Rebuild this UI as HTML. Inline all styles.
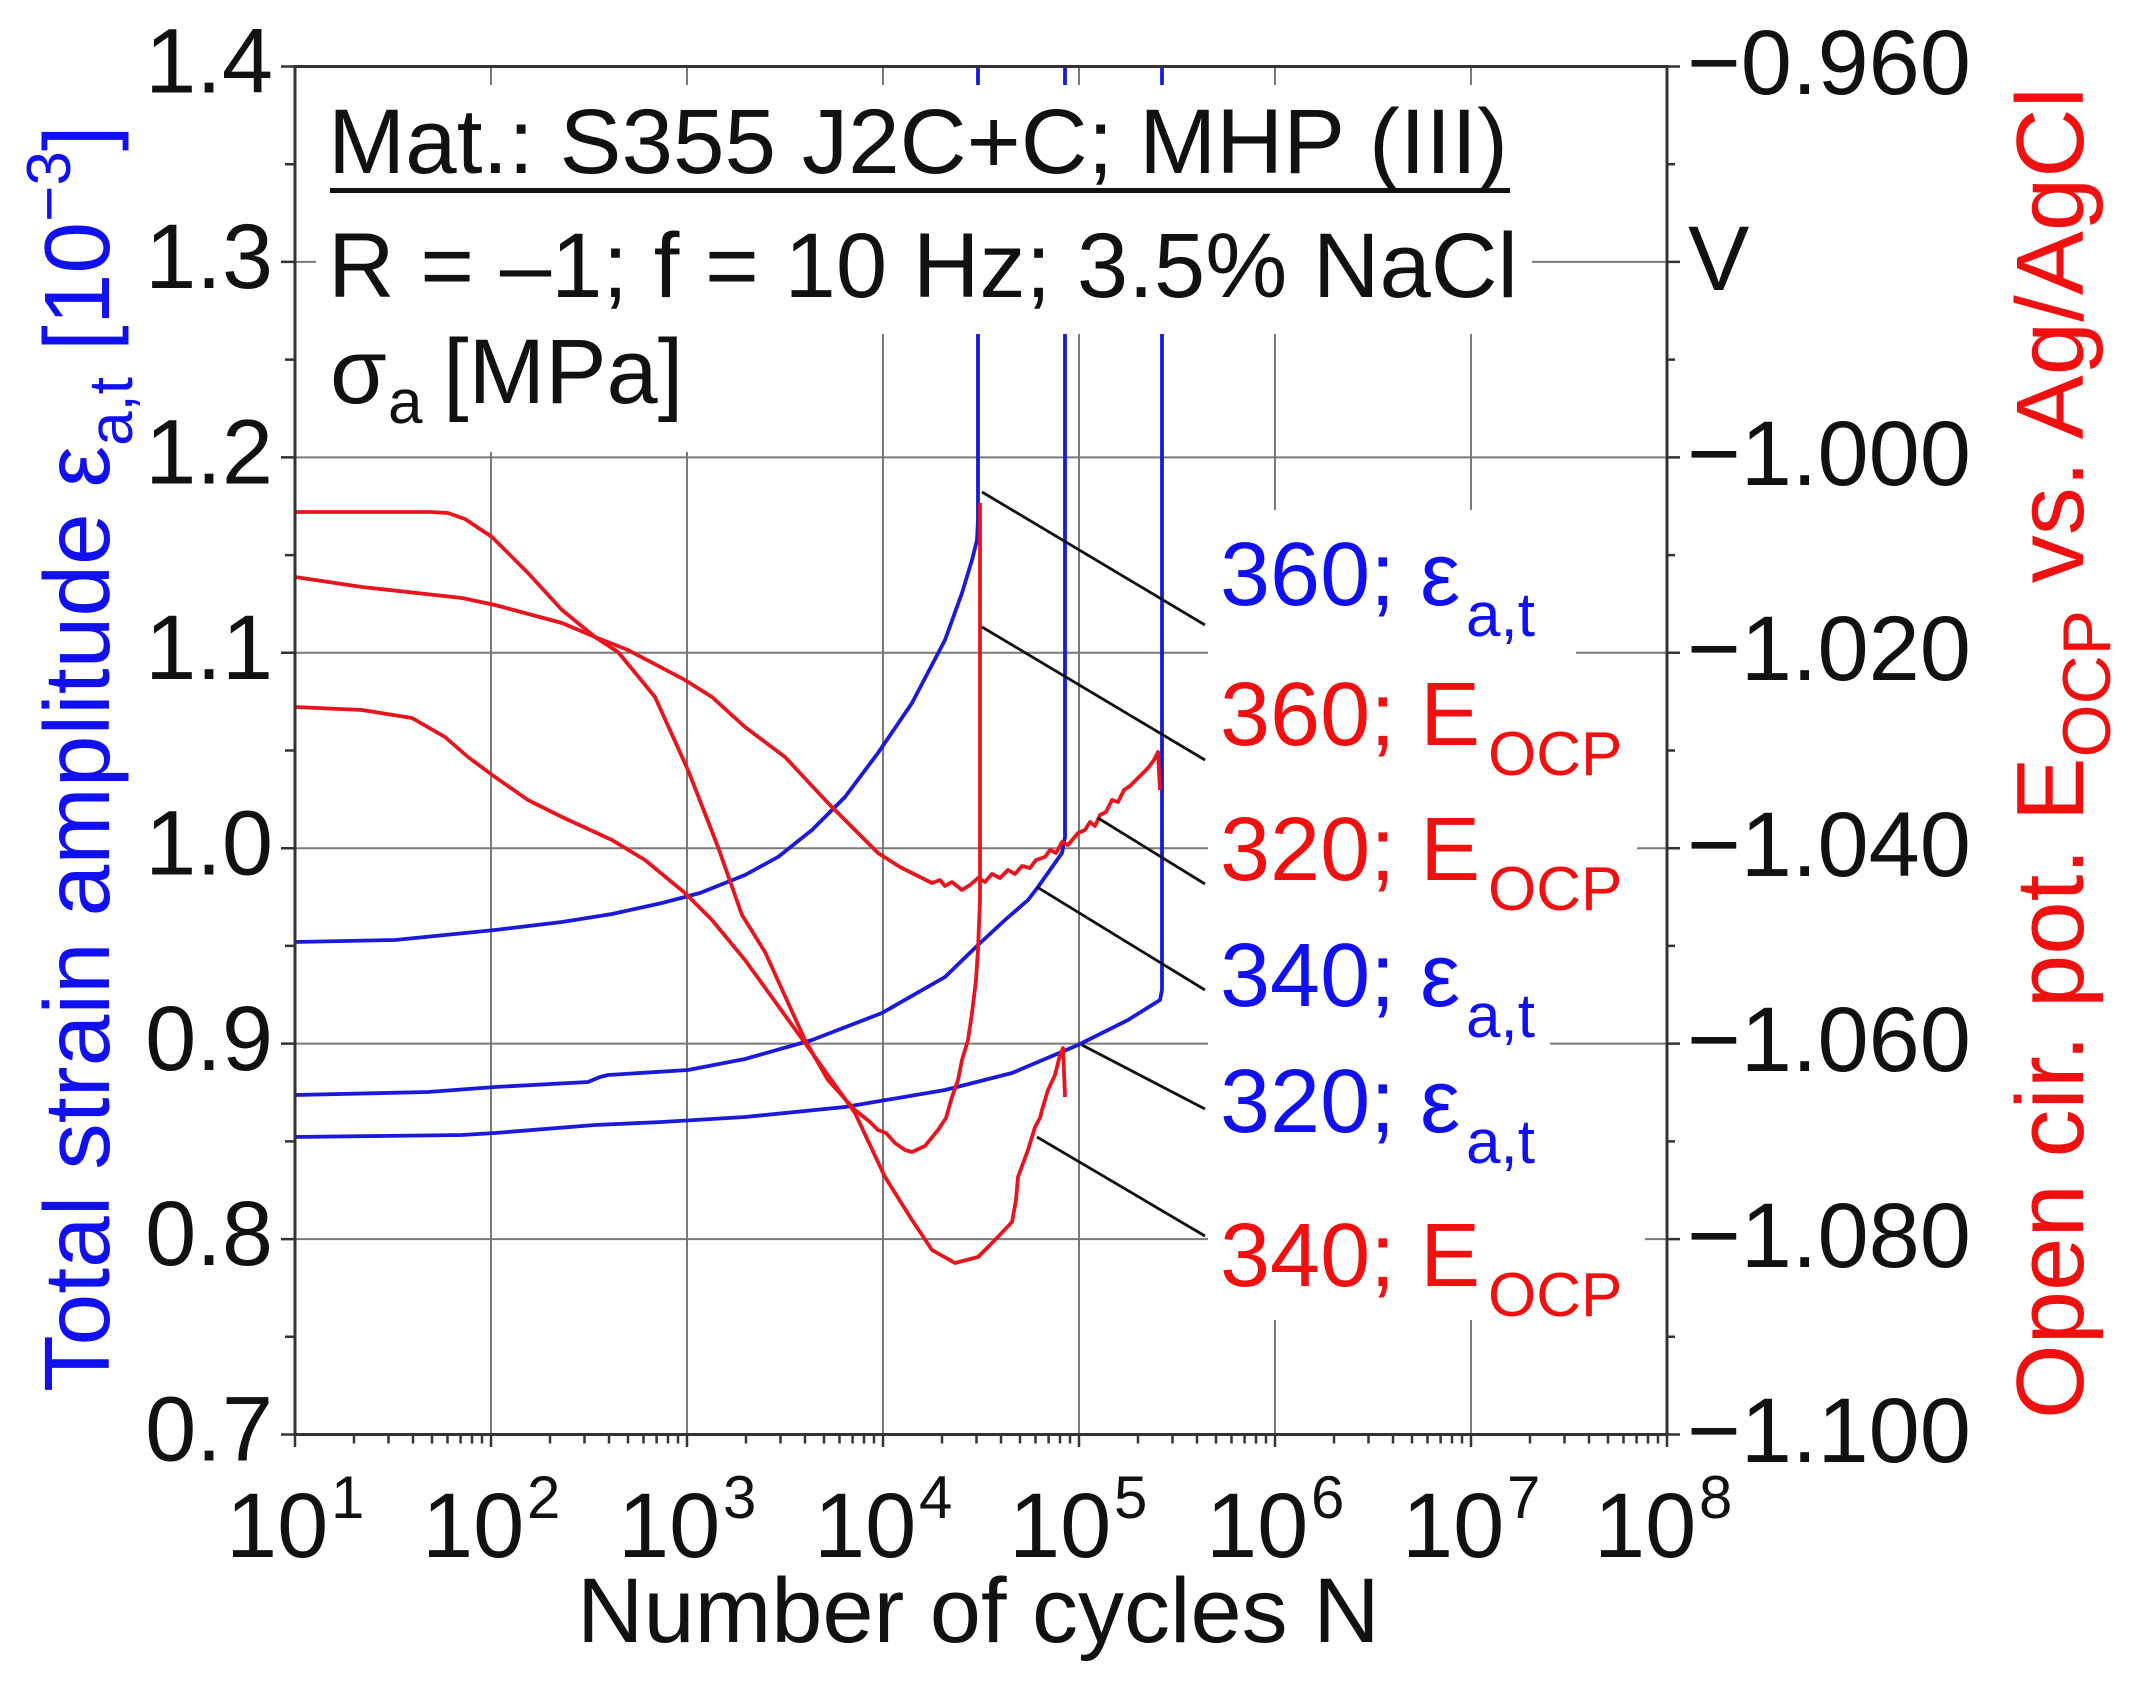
<!DOCTYPE html>
<html>
<head>
<meta charset="utf-8">
<style>
  html, body { margin: 0; padding: 0; background: #ffffff; }
  svg { display: block; }
  text { font-family: "Liberation Sans", Arial, sans-serif; }
</style>
</head>
<body>
<svg xmlns="http://www.w3.org/2000/svg" width="2134" height="1682" viewBox="0 0 2134 1682">
  <rect x="0" y="0" width="2134" height="1682" fill="#ffffff"/>

  <!-- Gridlines -->
  <g stroke="#7a7a7a" stroke-width="2" fill="none">
    <path d="M295 261.9H1667M295 457.4H1667M295 652.8H1667M295 848.2H1667M295 1043.6H1667M295 1239.1H1667"/>
    <path d="M491 66.5V1434.5M687 66.5V1434.5M883 66.5V1434.5M1079 66.5V1434.5M1275 66.5V1434.5M1471 66.5V1434.5"/>
  </g>

  <!-- Blue strain curves -->
  <g stroke="#1a1ad8" stroke-width="3.8" fill="none" stroke-linejoin="round">
    <!-- 360 -->
    <path d="M295 942 L395 940 L495 930 L562 922 L612 914 L662 903 L700 893 L745 875 L778 857 L812 830 L845 797 L878 753 L912 703 L945 640 L962 593 L972 560 L977 540 L978 520 L978 66.5"/>
    <!-- 340 -->
    <path d="M295 1095 L428 1092 L495 1087 L588 1082 L600 1077 L608 1075 L688 1070 L745 1059 L812 1040 L882 1013 L945 977 L978 945 L1005 920 L1028 900 L1038 887 L1062 853 L1065 837 L1065 66.5"/>
    <!-- 320 -->
    <path d="M295 1137 L462 1135 L495 1133 L595 1125 L662 1122 L745 1117 L845 1107 L945 1090 L1012 1073 L1078 1045 L1128 1020 L1160 1000 L1162 990 L1162 66.5"/>
  </g>

  <!-- Red OCP curves -->
  <g stroke="#e8141e" stroke-width="3.8" fill="none" stroke-linejoin="round">
    <!-- 360 E_OCP -->
    <path d="M295 512 L430 512 L448 513 L465 519 L492 537 L528 573 L562 610 L595 637 L618 652 L655 697 L688 770 L718 847 L742 915 L765 952 L805 1040 L828 1080 L855 1110 L870 1122 L878 1130 L886 1133 L895 1143 L905 1150 L912 1152 L925 1146 L938 1130 L946 1118 L952 1097 L958 1080 L962 1060 L968 1040 L972 1013 L976 980 L978 950 L980 900 L980 503"/>
    <!-- 320 E_OCP -->
    <path d="M295 577 L362 587 L462 598 L495 605 L562 623 L595 637 L628 650 L685 680 L712 697 L745 727 L785 757 L828 803 L878 853 L900 867 L912 873 L932 883 L940 880 L945 886 L952 882 L962 890 L970 885 L978 878 L985 882 L992 874 L1000 878 L1008 870 L1015 874 L1022 866 L1030 868 L1036 860 L1045 857 L1050 850 L1056 853 L1062 842 L1068 845 L1078 833 L1085 830 L1090 822 L1095 826 L1100 815 L1106 812 L1112 800 L1118 802 L1124 790 L1130 786 L1136 780 L1142 774 L1148 768 L1154 760 L1158 752 L1160 790"/>
    <!-- 340 E_OCP -->
    <path d="M295 707 L362 710 L412 718 L445 737 L468 757 L495 777 L528 800 L562 817 L612 840 L645 860 L685 893 L712 920 L745 960 L805 1043 L855 1113 L885 1177 L912 1220 L932 1250 L955 1263 L978 1257 L995 1240 L1012 1222 L1016 1200 L1018 1177 L1028 1150 L1035 1127 L1040 1118 L1042 1110 L1048 1090 L1055 1075 L1060 1055 L1063 1048 L1065 1097"/>
  </g>

  <!-- Leader lines -->
  <g stroke="#111" stroke-width="2.8" fill="none">
    <path d="M982 492L1205 625"/>
    <path d="M982 627L1205 760"/>
    <path d="M1098 818L1205 884"/>
    <path d="M1037 887L1205 990"/>
    <path d="M1082 1045L1205 1109"/>
    <path d="M1037 1137L1205 1236"/>
  </g>

  <!-- White backgrounds behind text blocks -->
  <g fill="#ffffff">
    <rect x="316" y="85" width="1216" height="249"/>
    <rect x="316" y="334" width="384" height="118"/>
    <rect x="1208" y="510" width="342" height="810"/>
    <rect x="1550" y="640" width="26" height="25"/>
    <rect x="1550" y="835" width="87" height="25"/>
    <rect x="1550" y="1222" width="95" height="30"/>
  </g>

  <!-- Axis frame -->
  <rect x="295" y="66.5" width="1372" height="1368" fill="none" stroke="#333" stroke-width="3"/>

  <!-- Ticks -->
  <g stroke="#333" stroke-width="2.5" fill="none">
    <path d="M281 66.5H295M281 261.9H295M281 457.4H295M281 652.8H295M281 848.2H295M281 1043.6H295M281 1239.1H295M281 1434.5H295"/>
    <path d="M285 164.2H295M285 359.65H295M285 555.1H295M285 750.5H295M285 945.9H295M285 1141.35H295M285 1336.8H295"/>
    <path d="M1667 66.5H1680M1667 261.9H1680M1667 457.4H1680M1667 652.8H1680M1667 848.2H1680M1667 1043.6H1680M1667 1239.1H1680M1667 1434.5H1680"/>
    <path d="M1667 164.2H1675M1667 359.65H1675M1667 555.1H1675M1667 750.5H1675M1667 945.9H1675M1667 1141.35H1675M1667 1336.8H1675"/>
    <path d="M295 1434.5V1447M491 1434.5V1447M687 1434.5V1447M883 1434.5V1447M1079 1434.5V1447M1275 1434.5V1447M1471 1434.5V1447M1667 1434.5V1447"/>
    <path d="M354 1434.5v9M388.5 1434.5v9M413 1434.5v9M432 1434.5v9M447.5 1434.5v9M460.6 1434.5v9M472 1434.5v9M482 1434.5v9
             M550 1434.5v9M584.5 1434.5v9M609 1434.5v9M628 1434.5v9M643.5 1434.5v9M656.6 1434.5v9M668 1434.5v9M678 1434.5v9
             M746 1434.5v9M780.5 1434.5v9M805 1434.5v9M824 1434.5v9M839.5 1434.5v9M852.6 1434.5v9M864 1434.5v9M874 1434.5v9
             M942 1434.5v9M976.5 1434.5v9M1001 1434.5v9M1020 1434.5v9M1035.5 1434.5v9M1048.6 1434.5v9M1060 1434.5v9M1070 1434.5v9
             M1138 1434.5v9M1172.5 1434.5v9M1197 1434.5v9M1216 1434.5v9M1231.5 1434.5v9M1244.6 1434.5v9M1256 1434.5v9M1266 1434.5v9
             M1334 1434.5v9M1368.5 1434.5v9M1393 1434.5v9M1412 1434.5v9M1427.5 1434.5v9M1440.6 1434.5v9M1452 1434.5v9M1462 1434.5v9
             M1530 1434.5v9M1564.5 1434.5v9M1589 1434.5v9M1608 1434.5v9M1623.5 1434.5v9M1636.6 1434.5v9M1648 1434.5v9M1658 1434.5v9"/>
  </g>

  <!-- Left tick labels -->
  <g font-size="92" fill="#111" text-anchor="end">
    <text x="273" y="92.5">1.4</text>
    <text x="273" y="288">1.3</text>
    <text x="273" y="483.5">1.2</text>
    <text x="273" y="679">1.1</text>
    <text x="273" y="874.5">1.0</text>
    <text x="273" y="1070">0.9</text>
    <text x="273" y="1265">0.8</text>
    <text x="273" y="1460.5">0.7</text>
  </g>

  <!-- Right tick labels -->
  <g font-size="92" fill="#111">
    <text x="1687" y="94">−0.960</text>
    <text x="1688" y="290">V</text>
    <text x="1687" y="485">−1.000</text>
    <text x="1687" y="680">−1.020</text>
    <text x="1687" y="876">−1.040</text>
    <text x="1687" y="1071">−1.060</text>
    <text x="1687" y="1267">−1.080</text>
    <text x="1687" y="1462">−1.100</text>
  </g>

  <!-- Bottom tick labels -->
  <g fill="#111">
    <text x="226" y="1557" font-size="92">10</text><text x="331" y="1518" font-size="60">1</text>
    <text x="422" y="1557" font-size="92">10</text><text x="527" y="1518" font-size="60">2</text>
    <text x="618" y="1557" font-size="92">10</text><text x="723" y="1518" font-size="60">3</text>
    <text x="814" y="1557" font-size="92">10</text><text x="919" y="1518" font-size="60">4</text>
    <text x="1009" y="1557" font-size="92">10</text><text x="1114" y="1518" font-size="60">5</text>
    <text x="1206" y="1557" font-size="92">10</text><text x="1311" y="1518" font-size="60">6</text>
    <text x="1402" y="1557" font-size="92">10</text><text x="1507" y="1518" font-size="60">7</text>
    <text x="1594" y="1557" font-size="92">10</text><text x="1699" y="1518" font-size="60">8</text>
  </g>

  <!-- X axis title -->
  <text x="577" y="1642" font-size="92" fill="#111">Number of cycles N</text>

  <!-- Left axis title (blue) -->
  <text transform="translate(109,1392) rotate(-90)" font-size="93" fill="#1010f0">Total strain amplitude ε<tspan font-size="62" dy="23">a,t</tspan><tspan dy="-23"> [10</tspan><tspan font-size="62" dy="-39">−3</tspan><tspan dy="39">]</tspan></text>

  <!-- Right axis title (red) -->
  <text transform="translate(2083,1419) rotate(-90)" font-size="96" fill="#f01010">Open cir. pot. E<tspan font-size="68" dy="27">OCP</tspan><tspan dy="-27"> vs. Ag/AgCl</tspan></text>

  <!-- Info text block -->
  <g fill="#111">
    <text x="328" y="173" font-size="92" textLength="1180" lengthAdjust="spacingAndGlyphs">Mat.: S355 J2C+C; MHP (III)</text>
    <rect x="330" y="188" width="1180" height="5" fill="#111"/>
    <text x="328" y="297" font-size="92" textLength="1190" lengthAdjust="spacingAndGlyphs">R = –1; f = 10 Hz; 3.5% NaCl</text>
    <text x="330" y="403" font-size="92">σ</text>
    <text x="388" y="423" font-size="62">a</text>
    <text x="443" y="403" font-size="92">[MPa]</text>
  </g>

  <!-- Series labels -->
  <g font-size="90">
    <text fill="#1010f0"><tspan x="1220" y="605">360; ε</tspan><tspan x="1466" y="636" font-size="62">a,t</tspan></text>
    <text fill="#f01010"><tspan x="1220" y="745">360; E</tspan><tspan x="1488" y="775" font-size="62">OCP</tspan></text>
    <text fill="#f01010"><tspan x="1220" y="880">320; E</tspan><tspan x="1488" y="910" font-size="62">OCP</tspan></text>
    <text fill="#1010f0"><tspan x="1220" y="1006">340; ε</tspan><tspan x="1466" y="1037" font-size="62">a,t</tspan></text>
    <text fill="#1010f0"><tspan x="1220" y="1132">320; ε</tspan><tspan x="1466" y="1163" font-size="62">a,t</tspan></text>
    <text fill="#f01010"><tspan x="1220" y="1286">340; E</tspan><tspan x="1488" y="1316" font-size="62">OCP</tspan></text>
  </g>
</svg>
</body>
</html>
